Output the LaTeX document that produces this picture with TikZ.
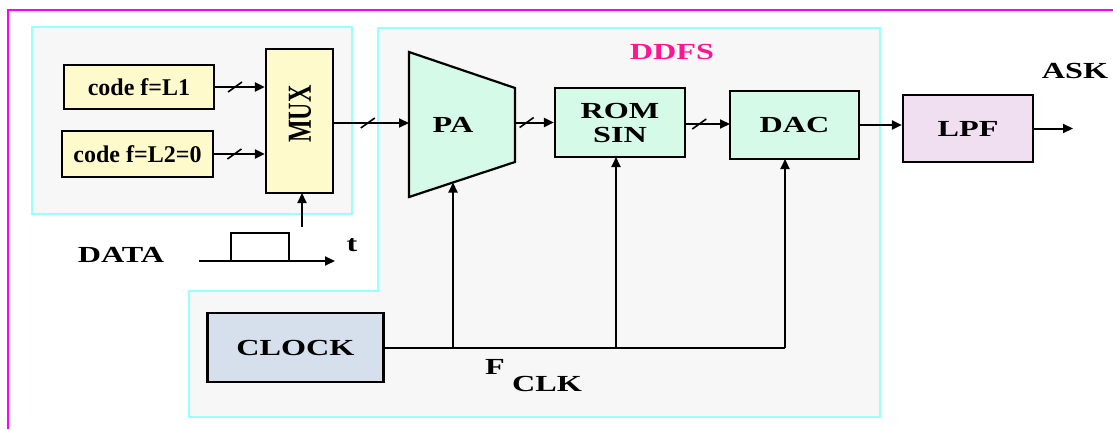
\documentclass[tikz,border=0pt]{standalone}
\usepackage{fontspec}
\setmainfont{Liberation Serif}
\newfontfamily\capfont[FakeStretch=1.4]{Liberation Serif}
\usepackage{xcolor}
\usepackage{tikz}
\usetikzlibrary{arrows.meta,calc,positioning}
\definecolor{codefill}{HTML}{FFFACC}
\definecolor{ddfsfill}{HTML}{D5FBE8}
\definecolor{lpffill}{HTML}{F0DFF0}
\definecolor{clockfill}{HTML}{D6DFEC}
\definecolor{regionfill}{HTML}{F7F7F7}
\definecolor{regionline}{HTML}{99FFFF}
\definecolor{ddfspink}{HTML}{FF1493}
\definecolor{framemag}{HTML}{FF00FF}

\begin{document}
\begin{tikzpicture}[x=0.5pt,y=-0.5pt,
  blk/.style={draw,line width=1.1pt,inner sep=0pt,font=\capfont\bfseries\fontsize{11.5}{13}\selectfont},
  codeblk/.style={blk,fill=codefill,font=\bfseries\fontsize{12}{14}\selectfont},
  dblk/.style={blk,fill=ddfsfill},
  region/.style={draw=regionline,line width=1pt,fill=regionfill},
  lbl/.style={inner sep=0pt,font=\capfont\bfseries\fontsize{11.5}{13}\selectfont},
  sig/.style={line width=1pt,-{Triangle[length=5pt,width=4.5pt]}},
  buswidth/.pic={\draw[-,line width=0.8pt] (-7,5)--(7,-5);}]
\useasboundingbox (0,0) rectangle (1113,429);
\draw[framemag,line width=1.2pt] (8,429)--(8,10)--(1113,10);
\draw[region] (32,27) rectangle (352,214);
\draw[region] (378,28)--(880,28)--(880,417)--(189,417)--(189,291)--(378,291)--cycle;

\node[codeblk,minimum width=75pt,minimum height=22pt] (code1) at (139,87) {code f=L1};
\node[codeblk,minimum width=75.5pt,minimum height=23pt] (code2) at (137.5,154) {code f=L2=0};
\node[blk,fill=codefill,minimum width=33.5pt,minimum height=72pt] (mux) at (299.5,121) {};
\node[lbl,rotate=90,font=\bfseries\fontsize{12}{14}\selectfont] (muxtext) at (300,114) {\scalebox{1}[1.4]{MUX}};

\node[inner sep=0pt,minimum width=53pt,minimum height=72.5pt] (pa) at (462,124.5) {};
\draw[line width=1.1pt,fill=ddfsfill] (409,52)--(515,88)--(515,162)--(409,197)--cycle;
\node[lbl] (patext) at (453,125) {PA};
\coordinate (pabot) at (453,182.5);

\node[dblk,minimum width=65pt,minimum height=34.5pt,align=center] (rom) at (620,122.5) {ROM\\[-1pt]SIN};
\node[dblk,minimum width=64.5pt,minimum height=34pt] (dac) at (794.5,125) {DAC};
\node[blk,fill=lpffill,minimum width=65pt,minimum height=33.5pt] (lpf) at (968,128.5) {LPF};
\node[blk,fill=clockfill,minimum width=88pt,minimum height=34.5pt] (clock) at (295.5,347.5) {CLOCK};
\coordinate (askend) at (1073,128.5);

\node[lbl,text=ddfspink] (ddfs) at (672,52) {DDFS};
\node[lbl] (ask) at (1075,71) {ASK};
\node[lbl] (data) at (121,255) {DATA};
\node[lbl] (tlabel) at (352,245) {t};
\node[lbl] (fclk) at (495,367) {F};
\node[lbl] (clk) at (547,384) {CLK};

\draw[sig] (code1.east) -- (code1.east -| mux.west) pic[pos=.4]{buswidth};
\draw[sig] (code2.east) -- (code2.east -| mux.west) pic[pos=.4]{buswidth};
\draw[sig] (mux.east) ++(0,2) -- (409,123) pic[pos=.45]{buswidth};
\draw[sig] (515,122.5) -- (rom.west) pic[pos=.3]{buswidth};
\draw[sig] (rom.east) ++(0,1.5) -- (730,124) pic[pos=.3]{buswidth};
\draw[sig] (dac.east) -- (dac.east -| lpf.west);
\draw[sig] (lpf.east) -- (askend);

\coordinate (waveend) at (335,261);
\draw[line width=1pt] (199,261)--(231,261)--(231,233)--(289,233)--(289,261);
\draw[sig] (199,261) -- (waveend);
\draw[sig] (302,227) -- (302,193);

\coordinate (romin) at (616,157);
\coordinate (dacin) at (785,159);
\draw[line width=1pt] (clock.east) -- (clock.east -| dacin);
\draw[sig] (clock.east -| pabot) -- (pabot);
\draw[sig] (clock.east -| romin) -- (romin);
\draw[sig] (clock.east -| dacin) -- (dacin);
\end{tikzpicture}
\end{document}
